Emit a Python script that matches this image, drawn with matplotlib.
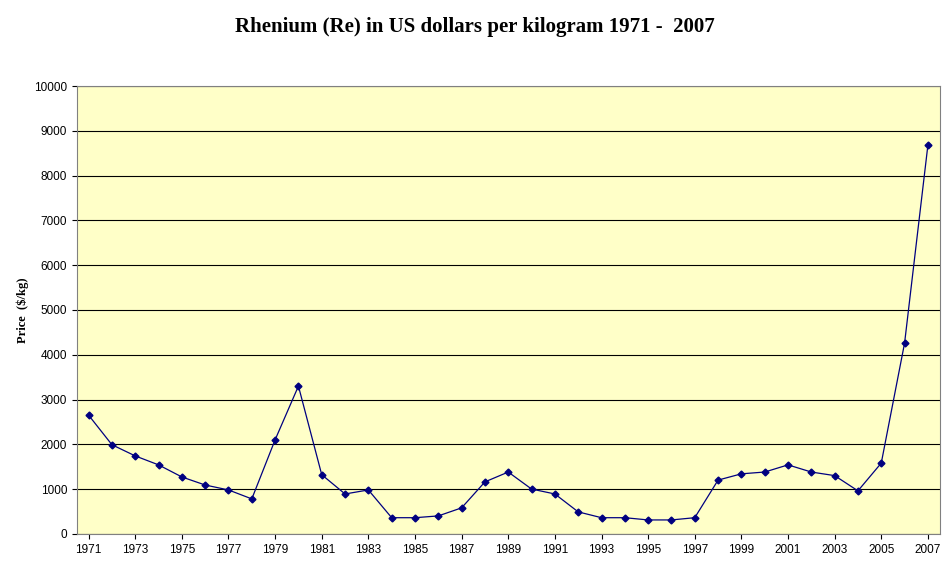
import matplotlib.pyplot as plt

years = list(range(1971, 2008))
prices = [2650, 1990, 1740, 1540, 1270, 1090, 980, 780, 2100, 3300,
          1320, 890, 980, 360, 360, 400, 580, 1160, 1380, 1000,
          890, 490, 360, 360, 310, 310, 360, 1200, 1340, 1380,
          1540, 1380, 1300, 960, 1580, 4260, 8680]
tick_years = list(range(1971, 2008, 2))

fig = plt.figure(figsize=(9.5, 5.74), dpi=100)
ax = fig.add_axes([0.081, 0.07, 0.908, 0.78])
ax.set_facecolor('#FFFFC8')
ax.plot(years, prices, color='#000080', marker='D', markersize=3.5, linewidth=0.9)
ax.set_xlim(1970.5, 2007.5)
ax.set_ylim(0, 10000)
ax.set_yticks(range(0, 10001, 1000))
ax.set_xticks(tick_years)
ax.set_xticklabels([str(y) for y in tick_years], fontsize=8.5, family='Liberation Sans')
for lbl in ax.get_yticklabels():
    lbl.set_fontsize(8.5)
    lbl.set_family('Liberation Sans')
ax.grid(axis='y', color='black', linewidth=0.8)
ax.set_axisbelow(True)
for s in ax.spines.values():
    s.set_color('#808080')
ax.set_ylabel('Price  ($/kg)', fontsize=9, fontweight='bold', family='Liberation Serif')
fig.suptitle('Rhenium (Re) in US dollars per kilogram 1971 -  2007', y=0.97,
             fontsize=15, fontweight='bold', family='Liberation Serif')
fig.savefig('out.png')
